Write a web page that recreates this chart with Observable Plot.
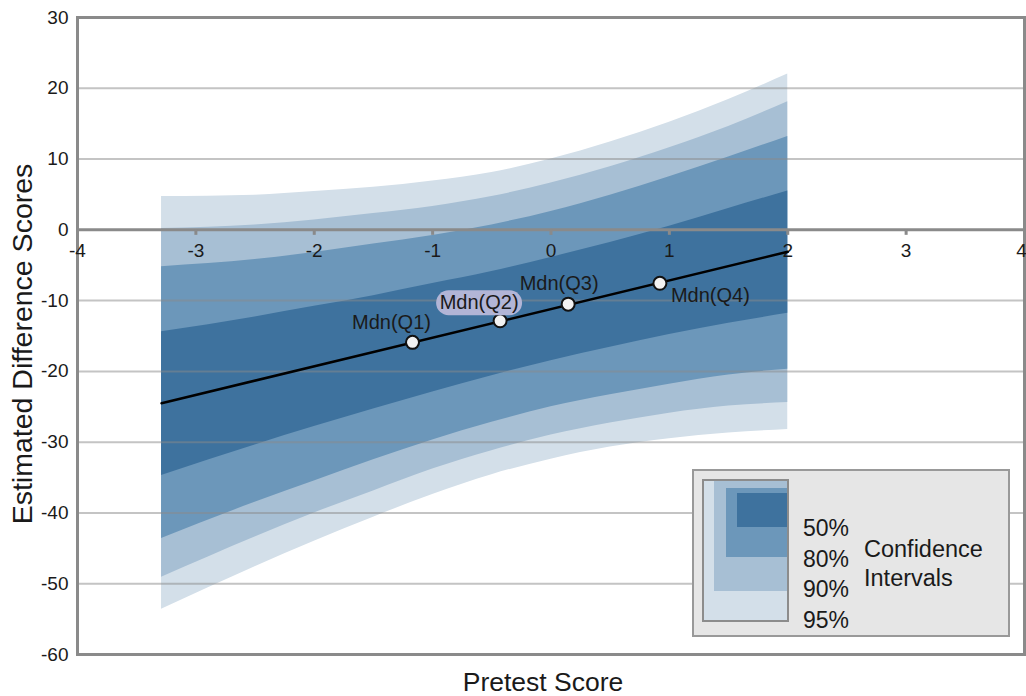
<!DOCTYPE html>
<html>
<head>
<meta charset="utf-8">
<script src="https://cdn.jsdelivr.net/npm/d3@7"></script>
<script src="https://cdn.jsdelivr.net/npm/@observablehq/plot@0.6"></script>
<style>
  body { margin: 0; background: white; font-family: 'Liberation Sans', Arial, sans-serif; color: #1a1a1a; }
  #chart { position: relative; width: 1026px; height: 696px; overflow: hidden; }
  #chart .lg { position: absolute; box-sizing: border-box; }
  #chart .lt { position: absolute; white-space: nowrap; transform: translateY(-50%); }
</style>
</head>
<body>
<div id="chart"></div>
<script>
// pretest score positions where the interval bounds were read
const xs = [-3.29, -2.5, -2, -1.5, -1, -0.5, 0, 0.5, 1, 1.5, 2]

// interval bounds (estimated difference scores)
const upper95 = [4.7, 4.9, 5.4, 6.0, 6.9, 8.1, 10.0, 12.4, 15.2, 18.4, 22.0]
const lower95 = [-53.6, -47.6, -44.0, -40.6, -37.4, -34.6, -32.4, -30.7, -29.5, -28.7, -28.2]
const upper90 = [0.2, 0.7, 1.4, 2.3, 3.3, 4.7, 6.6, 8.9, 11.6, 14.6, 18.1]
const lower90 = [-49.1, -43.4, -40.0, -36.9, -33.8, -31.2, -29.0, -27.3, -25.9, -24.9, -24.4]
const upper80 = [-5.2, -4.2, -3.2, -2.0, -0.8, 0.7, 2.6, 4.9, 7.5, 10.3, 13.2]
const lower80 = [-43.6, -38.5, -35.5, -32.5, -29.7, -27.2, -25.0, -23.3, -21.8, -20.5, -19.7]
const upper50 = [-14.4, -12.3, -10.8, -9.3, -7.6, -5.9, -3.9, -1.8, 0.5, 3.0, 5.5]
const lower50 = [-34.7, -30.4, -27.8, -25.3, -22.9, -20.6, -18.5, -16.6, -14.8, -13.2, -11.8]

// regression line end points
const lineX = [-3.29, 2.0]
const lineY = [-24.5, -3.1]

// quartile medians
const medLabels = ['Mdn(Q1)', 'Mdn(Q2)', 'Mdn(Q3)', 'Mdn(Q4)']
const medX = [-1.17, -0.43, 0.145, 0.92]
const medY = [-15.9, -12.85, -10.5, -7.55]

const levels = ['50%', '80%', '90%', '95%']
const levelColors = ['#3e729e', '#6c97ba', '#a7bfd4', '#d3dfe9']

const xTicks = [-4, -3, -2, -1, 0, 1, 2, 3, 4]
const yTicks = [-60, -50, -40, -30, -20, -10, 0, 10, 20, 30]

// build tables for the marks
const bands = xs.map((x, i) => ({
  x,
  lo95: lower95[i], hi95: upper95[i],
  lo90: lower90[i], hi90: upper90[i],
  lo80: lower80[i], hi80: upper80[i],
  lo50: lower50[i], hi50: upper50[i]
}))
const fitLine = lineX.map((x, i) => ({x, y: lineY[i]}))
const meds = medLabels.map((label, i) => ({label, x: medX[i], y: medY[i]}))

// label offsets in pixels (Q1..Q4)
const labelOffsets = [
  {dx: -21, dy: -20, anchor: 'middle'},
  {dx: -21, dy: -18, anchor: 'middle'},
  {dx: -9, dy: -21, anchor: 'middle'},
  {dx: 11, dy: 12, anchor: 'start'}
]

// little downward tick under the zero line
const tickSymbol = {
  draw(ctx) { ctx.moveTo(0, 0); ctx.lineTo(0, 5) }
}
// rounded pill behind the Q2 label
const pillSymbol = {
  draw(ctx) {
    const w = 43, h = 12.5
    ctx.moveTo(-w + h, -h)
    ctx.lineTo(w - h, -h)
    ctx.arc(w - h, 0, h, -Math.PI / 2, Math.PI / 2)
    ctx.lineTo(-w + h, h)
    ctx.arc(-w + h, 0, h, Math.PI / 2, 3 * Math.PI / 2)
    ctx.closePath()
  }
}

const curve = 'monotone-x'
const font = "'Liberation Sans', Arial, sans-serif"
const lastTick = xTicks[xTicks.length - 1]

const chart = Plot.plot({
  width: 1026,
  height: 696,
  marginLeft: 77,
  marginRight: 2,
  marginTop: 17,
  marginBottom: 42,
  x: {domain: [-4, 4], axis: null},
  y: {domain: [-60, 30]},
  style: {fontFamily: font, fontSize: '19px', color: '#1a1a1a', background: 'white'},
  marks: [
    Plot.areaY(bands, {x: 'x', y1: 'lo95', y2: 'hi95', fill: levelColors[3], curve}),
    Plot.areaY(bands, {x: 'x', y1: 'lo90', y2: 'hi90', fill: levelColors[2], curve}),
    Plot.areaY(bands, {x: 'x', y1: 'lo80', y2: 'hi80', fill: levelColors[1], curve}),
    Plot.areaY(bands, {x: 'x', y1: 'lo50', y2: 'hi50', fill: levelColors[0], curve}),
    Plot.ruleY(yTicks.filter(d => d !== 0), {stroke: '#8a8a8a', strokeOpacity: 0.5, strokeWidth: 2}),
    Plot.ruleY([0], {stroke: '#8a8a8a', strokeWidth: 3}),
    Plot.dot(xTicks, {x: d => d, y: 0, symbol: tickSymbol, stroke: '#8a8a8a', strokeWidth: 3, fill: 'none'}),
    Plot.frame({stroke: '#8a8a8a', strokeWidth: 3}),
    Plot.axisY({ticks: yTicks, tickSize: 0, tickPadding: 9, fontSize: 19, tickFormat: d => String(d), label: null}),
    Plot.text(xTicks.filter(d => d !== lastTick), {x: d => d, y: 0, text: d => String(d), dy: 21, fontSize: 19}),
    // the last tick label sits on the right edge; nudge it so it stays readable
    Plot.text([lastTick], {x: d => d, y: 0, text: d => String(d), dy: 21, dx: -3, fontSize: 19}),
    Plot.line(fitLine, {x: 'x', y: 'y', stroke: '#000', strokeWidth: 2.5}),
    Plot.dot(meds, {x: 'x', y: 'y', r: 6.5, fill: '#f2f2f2', stroke: '#111', strokeWidth: 2}),
    Plot.dot([meds[1]], {x: 'x', y: 'y', symbol: pillSymbol, fill: '#b2b5d6',
      dx: labelOffsets[1].dx, dy: labelOffsets[1].dy}),
    ...meds.map((m, i) => Plot.text([m], {
      x: 'x', y: 'y', text: 'label', fontSize: 20, fill: '#1a1a1a',
      dx: labelOffsets[i].dx, dy: labelOffsets[i].dy, textAnchor: labelOffsets[i].anchor
    })),
    Plot.text(['Pretest Score'], {frameAnchor: 'bottom', lineAnchor: 'middle', textAnchor: 'middle',
      dx: -8, dy: 28, fontSize: 26.5}),
    Plot.text(['Estimated Difference Scores'], {frameAnchor: 'left', lineAnchor: 'middle', textAnchor: 'middle',
      rotate: -90, dx: -55, dy: 8, fontSize: 28.5})
  ]
})

const root = d3.select('#chart')
root.append(() => chart)

// legend box inside the plot area
const box = (left, top, width, height, css) =>
  root.append('div').attr('class', 'lg')
    .attr('style', `left:${left}px;top:${top}px;width:${width}px;height:${height}px;${css}`)

box(692, 469, 318, 168, 'background:#e6e6e6;border:2px solid #999')
box(702, 479, 87, 143, 'background:' + levelColors[3] + ';border:2px solid #8c8c8c')
box(714, 481, 73, 110, 'background:' + levelColors[2])
box(726, 488, 61, 69, 'background:' + levelColors[1])
box(737, 493, 50, 34, 'background:' + levelColors[0])

levels.forEach((lv, i) => {
  root.append('div').attr('class', 'lt')
    .style('left', '803px').style('top', (528 + i * 30.5) + 'px')
    .style('font-size', '23px')
    .text(lv)
})
;['Confidence', 'Intervals'].forEach((t, i) => {
  root.append('div').attr('class', 'lt')
    .style('left', '864px').style('top', (549 + i * 29) + 'px')
    .style('font-size', '23.5px')
    .text(t)
})
</script>
</body>
</html>
